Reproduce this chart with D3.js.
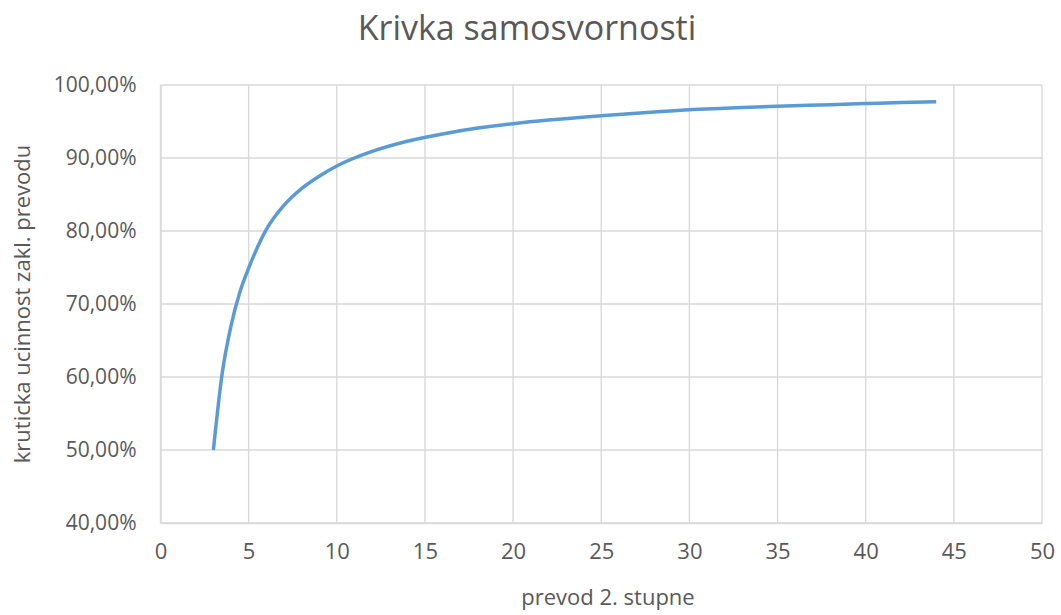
<!DOCTYPE html>
<html>
<head>
<meta charset="utf-8">
<script src="https://cdn.jsdelivr.net/npm/d3@7/dist/d3.min.js"></script>
<style>
  html, body { margin: 0; padding: 0; background: #ffffff; }
  svg { display: block; }
  text { font-family: "Open Sans", sans-serif; fill: #595959; }
</style>
</head>
<body>
<svg id="chart" width="1061" height="615"></svg>
<script>
// Gear ratio of the second stage (x) and critical efficiency of the base gear (y, %)
const ratios = [3, 3.5, 4, 4.5, 5, 6, 7, 8, 9, 10, 12, 14, 16, 18, 20, 22, 25, 28, 30, 32, 35, 38, 40, 42, 44];
const efficiency = [50.0, 60.5, 67.0, 71.6, 74.9, 80.2, 83.5, 85.8, 87.5, 88.9, 90.9, 92.3, 93.3, 94.1, 94.7, 95.2, 95.8, 96.3, 96.6, 96.8, 97.1, 97.3, 97.45, 97.6, 97.7];

const xTicks = [0, 5, 10, 15, 20, 25, 30, 35, 40, 45, 50];
const yTicks = [40, 50, 60, 70, 80, 90, 100];

const titleText = "Krivka samosvornosti";
const xTitle = "prevod 2. stupne";
const yTitle = "kruticka ucinnost zakl. prevodu";

const svg = d3.select("#chart");
const plot = { left: 160.5, right: 1042, top: 85, bottom: 523 };

const x = d3.scaleLinear().domain([0, 50]).range([plot.left, plot.right]);
const y = d3.scaleLinear().domain([40, 100]).range([plot.bottom, plot.top]);

const gridColor = "#d9d9d9";
const fmt = v => d3.format(".2f")(v).replace(".", ",") + "%";

// vertical gridlines
svg.append("g")
  .selectAll("line")
  .data(xTicks)
  .join("line")
  .attr("x1", d => x(d)).attr("x2", d => x(d))
  .attr("y1", plot.top).attr("y2", plot.bottom)
  .attr("stroke", gridColor).attr("stroke-width", 1.4);

// horizontal gridlines
svg.append("g")
  .selectAll("line")
  .data(yTicks)
  .join("line")
  .attr("x1", plot.left).attr("x2", plot.right)
  .attr("y1", d => y(d)).attr("y2", d => y(d))
  .attr("stroke", gridColor).attr("stroke-width", 1.4);

// x axis (labels only, no tick marks)
const xAxis = svg.append("g")
  .attr("transform", `translate(0,${plot.bottom})`)
  .call(d3.axisBottom(x).tickValues(xTicks).tickSize(0).tickPadding(20));
xAxis.select(".domain").attr("stroke", gridColor).attr("stroke-width", 1.4);
xAxis.selectAll("text")
  .style("font-family", "'Open Sans', sans-serif")
  .style("font-size", "22px")
  .attr("fill", "#595959");

// y axis
const yAxis = svg.append("g")
  .attr("transform", `translate(${plot.left},0)`)
  .call(d3.axisLeft(y).tickValues(yTicks).tickFormat(fmt).tickSize(0).tickPadding(24));
yAxis.select(".domain").attr("stroke", gridColor).attr("stroke-width", 1.4);
yAxis.selectAll("text")
  .style("font-family", "'Open Sans', sans-serif")
  .style("font-size", "21px")
  .attr("fill", "#595959");

// curve
const data = ratios.map((r, i) => ({ r, e: efficiency[i] }));
svg.append("path")
  .datum(data)
  .attr("fill", "none")
  .attr("stroke", "#5b9bd5")
  .attr("stroke-width", 3.5)
  .attr("stroke-linejoin", "round")
  .attr("d", d3.line().x(d => x(d.r)).y(d => y(d.e)).curve(d3.curveMonotoneX));

// titles
svg.append("text")
  .attr("x", 527).attr("y", 40)
  .attr("text-anchor", "middle")
  .style("font-size", "34px")
  .text(titleText);

svg.append("text")
  .attr("x", 608).attr("y", 605)
  .attr("text-anchor", "middle")
  .style("font-size", "22px")
  .text(xTitle);

svg.append("text")
  .attr("transform", `translate(30,${(plot.top + plot.bottom) / 2}) rotate(-90)`)
  .attr("text-anchor", "middle")
  .style("font-size", "22px")
  .text(yTitle);
</script>
</body>
</html>
